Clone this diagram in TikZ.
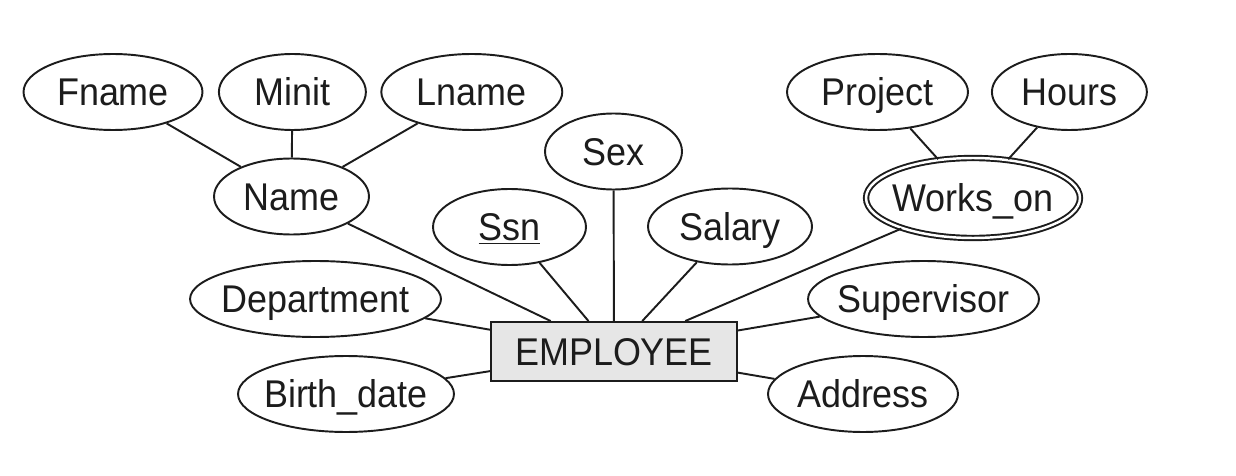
\documentclass[tikz,border=0pt]{standalone}
\usepackage{fontspec}
\setmainfont{Liberation Sans}[FakeStretch=0.93]
\usetikzlibrary{shapes.geometric,positioning}
\definecolor{ink}{HTML}{1C1C1C}
\definecolor{boxgray}{HTML}{E6E6E6}
\tikzset{
  attr/.style={ellipse, draw=ink, text=ink, line width=1.1pt, inner sep=0pt,
    minimum width=#1, minimum height=1.52cm,
    text height=15.7pt, text depth=0pt,
    execute at begin node={\hbox to 0pt\bgroup\hss},
    execute at end node={\hss\egroup}},
  mattr/.style={attr=#1, double, double distance=1.4pt, minimum height=1.6cm},
  ent/.style={rectangle, draw=ink, text=ink, fill=boxgray, line width=1.1pt,
    minimum width=4.92cm, minimum height=1.18cm, inner sep=0pt,
    text height=15.7pt, text depth=0pt},
}

\begin{document}
\begin{tikzpicture}[x=0.02cm, y=-0.02cm, font=\fontsize{22}{26}\selectfont]
 \useasboundingbox (0,0) rectangle (1236,476);
 \node[attr=3.58cm] (fname) at (113,92) {Fname};
 \node[attr=2.94cm, right=0.29cm of fname] (minit) {Minit};
 \node[attr=3.62cm, right=0.27cm of minit] (lname) {Lname};
 \node[attr=3.1cm] (name) at (291.5,196.5) {Name};
 \node[attr=2.74cm] (sex) at (613.5,151.5) {Sex};
 \node[attr=3.06cm] (ssn) at (509.5,227) {\underline{Ssn}};
 \node[attr=3.28cm] (salary) at (730,226.5) {Salary};
 \node[attr=3.62cm] (proj) at (877.5,92) {Project};
 \node[attr=3.1cm, right=0.44cm of proj] (hours) {Hours};
 \node[mattr=4.28cm] (works) at (973,198) {Works\_on};
 \node[attr=5.02cm] (dept) at (315.5,299) {Department};
 \node[attr=4.62cm] (super) at (923.5,299) {Supervisor};
 \node[attr=4.32cm] (bdate) at (346,394) {Birth\_date};
 \node[attr=3.8cm] (addr) at (863,394) {Address};
 \node[ent] (emp) at (614,351.5) {EMPLOYEE};
 %
 \draw[ink, line width=1.1pt]
   (fname) -- (name)
   (minit) -- (name)
   (lname) -- (name)
   (proj) -- (works)
   (hours) -- (works)
   (name) -- (emp)
   (ssn) -- (emp)
   (sex) -- (emp)
   (salary) -- (emp)
   (works) -- (emp)
   (dept) -- (emp)
   (super) -- (emp)
   (bdate) -- (emp)
   (addr) -- (emp);
\end{tikzpicture}
\end{document}
